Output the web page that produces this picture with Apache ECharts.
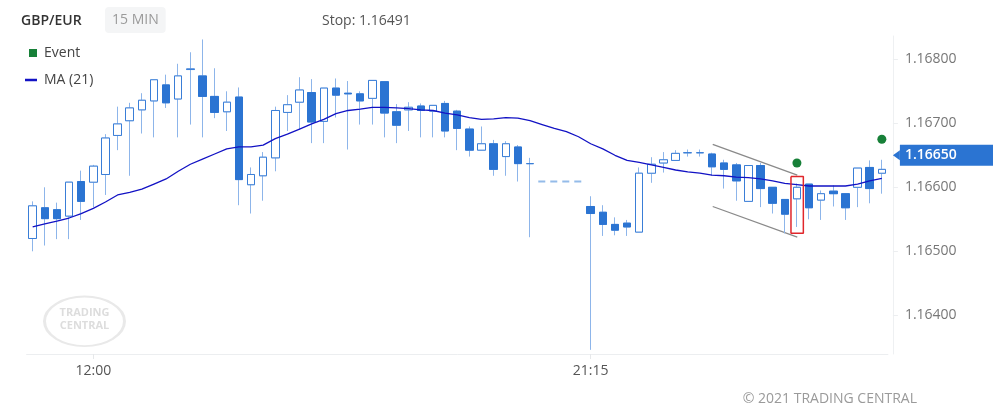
<!DOCTYPE html>
<html><head><meta charset="utf-8">
<script src="https://cdn.jsdelivr.net/npm/echarts@6/dist/echarts.min.js"></script>
<style>html,body{margin:0;padding:0;background:#fff}#c{width:993px;height:418px}</style>
</head><body><div id="c"></div>
<script>
// ---- data ----
const categories = ['10:45','11:00','11:15','11:30','11:45','12:00','12:15','12:30','12:45','13:00','13:15','13:30','13:45','14:00','14:15','14:30','14:45','15:00','15:15','15:30','15:45','16:00','16:15','16:30','16:45','17:00','17:15','17:30','17:45','18:00','18:15','18:30','18:45','19:00','19:15','19:30','19:45','20:00','20:15','20:30','20:45','21:00',
  'gap1','gap2','gap3','gap4',
  '21:15','21:30','21:45','22:00','22:15','22:30','22:45','23:00','23:15','23:30','23:45','00:00','00:15','00:30','00:45','01:00','01:15','01:30','01:45','02:00','02:15','02:30','02:45','03:00','03:15'];
const shownTimes = ['12:00', '21:15'];

const opens = [1.16520,1.16568,1.16565,1.16555,1.16609,1.16608,1.16620,1.16681,1.16704,1.16721,1.16735,1.16760,1.16738,1.16784,1.16774,1.16742,1.16718,1.16741,1.16604,1.16618,1.16646,1.16717,1.16733,1.16748,1.16703,1.16755,1.16747,1.16746,1.16739,1.16765,1.16718,1.16721,1.16727,1.16719,1.16731,1.16719,1.16691,1.16658,1.16668,1.16648,1.16663,1.16637,
  null,null,null,null,
  1.16570,1.16561,1.16542,1.16544,1.16530,1.16622,1.16638,1.16642,1.16654,1.16654,1.16652,1.16638,1.16635,1.16578,1.16634,1.16600,1.16581,1.16582,1.16605,1.16580,1.16594,1.16590,1.16600,1.16631,1.16622];
const closes = [1.16571,1.16551,1.16551,1.16608,1.16578,1.16633,1.16677,1.16699,1.16724,1.16736,1.16768,1.16732,1.16774,1.16785,1.16742,1.16717,1.16733,1.16612,1.16620,1.16647,1.16720,1.16729,1.16752,1.16702,1.16755,1.16744,1.16746,1.16735,1.16767,1.16716,1.16697,1.16725,1.16720,1.16728,1.16688,1.16692,1.16658,1.16668,1.16628,1.16668,1.16637,1.16637,
  null,null,null,null,
  1.16559,1.16542,1.16533,1.16538,1.16622,1.16636,1.16643,1.16653,1.16654,1.16654,1.16632,1.16628,1.16610,1.16634,1.16598,1.16575,1.16558,1.16600,1.16568,1.16590,1.16590,1.16568,1.16630,1.16598,1.16628];
const lows = [1.16500,1.16509,1.16519,1.16519,1.16549,1.16569,1.16588,1.16658,1.16618,1.16684,1.16678,1.16724,1.16678,1.16698,1.16678,1.16708,1.16688,1.16572,1.16559,1.16579,1.16625,1.16688,1.16690,1.16669,1.16669,1.16709,1.16659,1.16698,1.16698,1.16678,1.16669,1.16688,1.16678,1.16678,1.16678,1.16658,1.16648,1.16658,1.16618,1.16618,1.16609,1.16522,
  null,null,null,null,
  1.16346,1.16524,1.16525,1.16524,1.16530,1.16607,1.16623,1.16642,1.16648,1.16648,1.16618,1.16598,1.16579,1.16578,1.16569,1.16559,1.16528,1.16538,1.16550,1.16549,1.16570,1.16549,1.16569,1.16575,1.16590];
const highs = [1.16578,1.16600,1.16576,1.16608,1.16626,1.16635,1.16683,1.16726,1.16732,1.16747,1.16768,1.16776,1.16793,1.16811,1.16831,1.16786,1.16750,1.16756,1.16631,1.16655,1.16726,1.16744,1.16772,1.16769,1.16755,1.16770,1.16766,1.16750,1.16767,1.16766,1.16730,1.16733,1.16731,1.16728,1.16735,1.16721,1.16695,1.16695,1.16674,1.16672,1.16666,1.16646,
  null,null,null,null,
  1.16586,1.16572,1.16553,1.16549,1.16631,1.16647,1.16655,1.16658,1.16659,1.16659,1.16654,1.16643,1.16638,1.16634,1.16638,1.16600,1.16581,1.16606,1.16605,1.16595,1.16603,1.16590,1.16630,1.16642,1.16643];
const ma21 = [1.16538,1.16543,1.16547,1.16552,1.16559,1.16567,1.16577,1.16588,1.16592,1.16597,1.16605,1.16613,1.16625,1.16636,1.16644,1.16652,1.16660,1.16663,1.16663,1.16666,1.16676,1.16683,1.16691,1.16699,1.16706,1.16715,1.16720,1.16722,1.16725,1.16725,1.16724,1.16723,1.16721,1.16720,1.16716,1.16713,1.16709,1.16706,1.16707,1.16709,1.16708,1.16704,
  1.16698,1.16692,1.16687,1.16679,
  1.16668,1.16660,1.16650,1.16642,1.16639,1.16635,1.16631,1.16627,1.16624,1.16622,1.16619,1.16618,1.16616,1.16615,1.16613,1.16610,1.16606,1.16604,1.16602,1.16602,1.16602,1.16602,1.16605,1.16610,1.16614];

const eventSlots = [63, 70];
const eventPrices = [1.16638, 1.16675];
const gapLine = [[41.68, 1.16609], [45.34, 1.16609]];
const channelUpper = [[56.06, 1.16667], [63.03, 1.16619]];
const channelLower = [[56.06, 1.16570], [63.03, 1.16522]];
const signalBox = [[62.51, 1.16617], [63.53, 1.16617], [63.53, 1.16528], [62.51, 1.16528], [62.51, 1.16617]];
const lastPrice = 1.16650;
const stopPrice = 1.16491;
const yTicks = [1.164, 1.165, 1.166, 1.167, 1.168];

// ---- chart ----
const candles = opens.map((o, i) => o === null ? '-' : [o, closes[i], lows[i], highs[i]]);
const bodies = opens.map((o, i) => o === null ? '-' : [o, closes[i], Math.min(o, closes[i]), Math.max(o, closes[i])]);
const FONT = 'Open Sans';
const UP = '#3a7ed7', DOWN = '#2b74d2', WICK = '#8db5ea';
const xEdge = categories.length - 0.5;
const chart = echarts.init(document.getElementById('c'), null, {renderer: 'canvas'});
const option = {
  animation: false,
  backgroundColor: '#ffffff',
  textStyle: {fontFamily: FONT},
  title: [
    {text: 'GBP/EUR', left: 21, top: 14, padding: 0, textStyle: {fontSize: 14, fontWeight: 600, color: '#333', fontFamily: FONT}},
    {text: '15 MIN', left: 105, top: 7, padding: [6, 7, 6, 7], backgroundColor: '#f4f5f6', borderRadius: 4, textStyle: {fontSize: 14, fontWeight: 'normal', color: '#9a9a9a', fontFamily: FONT}},
    {text: 'Stop: ' + stopPrice.toFixed(5), left: 322, top: 14, padding: 0, textStyle: {fontSize: 14, fontWeight: 'normal', color: '#555', fontFamily: FONT}},
    {text: '\u00a9 2021 TRADING CENTRAL', right: 76, top: 392, padding: 0, textStyle: {fontSize: 14, fontWeight: 'normal', color: '#9a9a9a', fontFamily: FONT}}
  ],
  legend: [
    {data: [{name: 'Event', icon: 'rect', itemStyle: {color: '#178038', opacity: 1}}], left: 29, top: 46, padding: 0, itemWidth: 8, itemHeight: 8, selectedMode: false,
     textStyle: {fontSize: 14, color: '#444', fontFamily: FONT, padding: [0, 0, 0, 2]}},
    {data: [{name: 'MA (21)', icon: 'rect'}], left: 25, top: 73, padding: 0, itemWidth: 12, itemHeight: 2.5, selectedMode: false,
     textStyle: {fontSize: 14, color: '#444', fontFamily: FONT, padding: [0, 0, 0, 2]}}
  ],
  grid: {left: 26.6, right: 105.1, top: 36, bottom: 64, containLabel: false, outerBoundsMode: 'none'},
  xAxis: [
    {type: 'category', data: categories, boundaryGap: true,
     axisLine: {show: true, onZero: false, lineStyle: {color: '#eceef0', width: 1}},
     axisTick: {show: true, alignWithLabel: true, length: 5, lineStyle: {color: '#e6e8ea'},
       interval: (i, v) => shownTimes.includes(v)},
     axisLabel: {show: true, margin: 10, fontSize: 14, color: '#555', fontFamily: FONT,
       interval: (i, v) => shownTimes.includes(v)},
     splitLine: {show: false}},
    {type: 'value', min: -0.5, max: xEdge, show: false,
     axisLine: {show: false, onZero: false}, axisTick: {show: false}, axisLabel: {show: false}, splitLine: {show: false}}
  ],
  yAxis: {
    type: 'value', position: 'right', offset: 5, min: 1.163395, max: 1.168364, scale: true,
    axisLine: {show: true, onZero: false, lineStyle: {color: '#eef0f2'}},
    axisTick: {show: true, length: 5, lineStyle: {color: '#eceef0'}, customValues: yTicks},
    axisLabel: {show: true, margin: 12, fontSize: 14, color: '#777', fontFamily: FONT, customValues: yTicks,
      padding: [6, 0, 0, 0], formatter: v => v.toFixed(5)},
    splitLine: {show: false}
  },
  graphic: [
    {type: 'group', left: 42, top: 295, silent: true, children: [
      {type: 'circle', shape: {cx: 0, cy: 0, r: 40}, x: 41, y: 25, scaleY: 0.62, style: {fill: 'none', stroke: '#e9e9e9', lineWidth: 3}},
      {type: 'text', x: 41, y: 17, style: {text: 'TRADING', fill: '#dddddd', font: 'bold 11px "Liberation Sans Narrow", "Open Sans"', align: 'center', verticalAlign: 'middle'}},
      {type: 'text', x: 41, y: 30, style: {text: 'CENTRAL', fill: '#dddddd', font: 'bold 11px "Liberation Sans Narrow", "Open Sans"', align: 'center', verticalAlign: 'middle'}}
    ]}
  ],
  series: [
    {type: 'candlestick', name: 'GBP/EUR', data: candles, barWidth: 8, z: 3,
     itemStyle: {color: '#ffffff', color0: DOWN, borderColor: WICK, borderColor0: WICK, borderWidth: 1}},
    {type: 'candlestick', name: 'GBP/EUR body', data: bodies, barWidth: 8, z: 3,
     itemStyle: {color: '#ffffff', color0: DOWN, borderColor: UP, borderColor0: DOWN, borderWidth: 1}},
    {type: 'line', name: 'MA (21)', data: ma21, showSymbol: false, symbol: 'none', z: 4,
     lineStyle: {color: '#1212c4', width: 1.3}, itemStyle: {color: '#1212c4'}},
    {type: 'scatter', name: 'Event', xAxisIndex: 1, data: eventSlots.map((s, i) => [s, eventPrices[i]]),
     symbol: 'circle', symbolSize: 9, itemStyle: {color: '#178038', opacity: 1}, z: 5},
    {type: 'scatter', name: 'lastPrice', xAxisIndex: 1, data: [[xEdge, lastPrice]], clip: false, silent: true,
     symbol: 'path://M0,5L7,0L7,10Z', symbolSize: [7, 10], symbolOffset: [8.5, 0],
     itemStyle: {color: DOWN, opacity: 1}, z: 7,
     label: {show: true, position: 'right', distance: 0, formatter: lastPrice.toFixed(5),
       backgroundColor: DOWN, color: '#fff', fontSize: 14, fontWeight: 600, fontFamily: FONT,
       padding: [3, 40, 3, 5], lineHeight: 15}},
    {type: 'line', name: 'gap', xAxisIndex: 1, data: gapLine, showSymbol: false, symbol: 'none',
     lineStyle: {color: '#94bbe9', width: 2, type: [7, 5]}, z: 2},
    {type: 'line', name: 'upper', xAxisIndex: 1, data: channelUpper, showSymbol: false, symbol: 'none',
     lineStyle: {color: '#8a8a8a', width: 1.3}, z: 2},
    {type: 'line', name: 'lower', xAxisIndex: 1, data: channelLower, showSymbol: false, symbol: 'none',
     lineStyle: {color: '#8a8a8a', width: 1.3}, z: 2},
    {type: 'line', name: 'signal', xAxisIndex: 1, data: signalBox, showSymbol: false, symbol: 'none',
     lineStyle: {color: '#e0262b', width: 1.5}, z: 6}
  ]
};
chart.setOption(option);
</script>
</body></html>
